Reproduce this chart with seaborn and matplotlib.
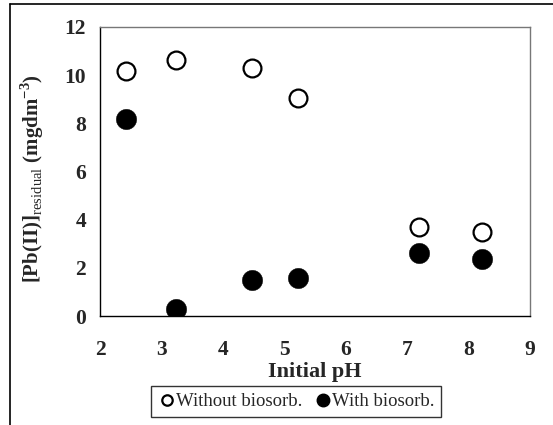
import matplotlib
matplotlib.use('Agg')
from matplotlib import pyplot as plt
from matplotlib.lines import Line2D
import seaborn as sns
import pandas as pd

ph_values = [2.42, 3.24, 4.47, 5.22, 7.20, 8.22]
pb_without = [10.18, 10.65, 10.29, 9.05, 3.71, 3.47]
pb_with = [8.16, 0.28, 1.48, 1.58, 2.60, 2.35]
series_names = ['Without biosorb.', 'With biosorb.']

df = pd.DataFrame({
    'pH': ph_values * 2,
    'Pb': pb_without + pb_with,
    'series': [series_names[0]] * len(ph_values) + [series_names[1]] * len(ph_values),
})

sns.set_theme(style='white')
plt.rcParams['font.family'] = ['Liberation Serif', 'DejaVu Serif']
plt.rcParams['mathtext.fontset'] = 'custom'
plt.rcParams['mathtext.rm'] = 'Liberation Serif'
plt.rcParams['mathtext.bf'] = 'Liberation Serif:bold'

fig = plt.figure(figsize=(5.53, 4.25), dpi=100)
ax = fig.add_axes([100 / 553, 1 - 316 / 425, 430 / 553, 289 / 425])

open_df = df[df['series'] == series_names[0]]
filled_df = df[df['series'] == series_names[1]]
sns.scatterplot(data=open_df, x='pH', y='Pb', ax=ax, marker='o', s=165,
                facecolor='white', edgecolor='black', linewidth=1.6, zorder=3)
sns.scatterplot(data=filled_df, x='pH', y='Pb', ax=ax, marker='o', s=215,
                color='black', edgecolor='black', linewidth=0.3, zorder=3)

ax.set_xlim(2, 9)
ax.set_ylim(0, 12)
ax.set_xticks(range(2, 10))
ax.set_yticks(range(0, 13, 2))
for spine in ax.spines.values():
    spine.set_color('black')
    spine.set_linewidth(1.0)
ax.spines['top'].set_color('#777777')
ax.spines['right'].set_color('#777777')
ax.tick_params(axis='both', direction='out', length=5, width=1, color='black',
               labelsize=15.5)
ax.tick_params(axis='x', pad=12)
ax.tick_params(axis='y', pad=5)
for label in ax.get_xticklabels() + ax.get_yticklabels():
    label.set_fontweight('bold')

ax.set_xlabel('Initial pH', fontsize=16, fontweight='bold', labelpad=2)
ax.set_ylabel(r'[Pb(II)]$_{\mathrm{residual}}$ (mgdm$^{\mathbf{-3}}$)',
              fontsize=15, fontweight='bold')
ax.yaxis.set_label_coords(-0.125, 0.475)

handles = [
    Line2D([], [], marker='o', linestyle='none', markersize=7.5,
           markerfacecolor='white', markeredgecolor='black', markeredgewidth=1.6),
    Line2D([], [], marker='o', linestyle='none', markersize=9,
           markerfacecolor='black', markeredgecolor='black'),
]
leg = fig.legend(handles, series_names, loc='center', ncol=2,
                 bbox_to_anchor=(296 / 553, 1 - 401.5 / 425), frameon=True,
                 fancybox=False, edgecolor='black', fontsize=13.5,
                 handletextpad=0.0, columnspacing=0.6, borderpad=0.35,
                 handlelength=1.0, borderaxespad=0)
leg.get_frame().set_linewidth(1.0)

fig.add_artist(Line2D([9.5 / 553, 9.5 / 553], [0, 1 - 3.5 / 425], color='black', linewidth=1.2,
                      transform=fig.transFigure))
fig.add_artist(Line2D([9.5 / 553, 1], [1 - 3.5 / 425, 1 - 3.5 / 425], color='black',
                      linewidth=1.2, transform=fig.transFigure))

fig.savefig('out.png', dpi=100)
